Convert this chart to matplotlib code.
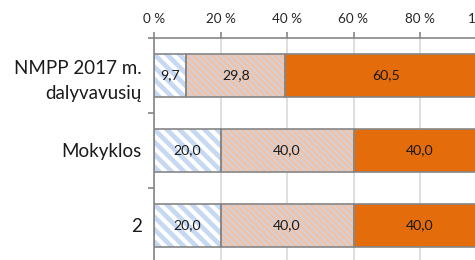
import numpy as np
import matplotlib
matplotlib.use("Agg")
import matplotlib.pyplot as plt

plt.rcParams['font.family'] = ['Lato', 'DejaVu Sans']

categories = ['NMPP 2017 m.\ndalyvavusių', 'Mokyklos', '2']
low = [9.7, 20.0, 20.0]
mid = [29.8, 40.0, 40.0]
high = [60.5, 40.0, 40.0]
xticks = [0, 20, 40, 60, 80, 100]

grey = '#868686'
fig = plt.figure(figsize=(475/75, 260/75), dpi=75)
ax = fig.add_axes([154/475, -3/260, 332.5/475, 225/260])

pos = np.arange(len(categories)) + 0.5
h = 0.57
low = np.array(low); mid = np.array(mid); high = np.array(high)

plt.rcParams['hatch.linewidth'] = 4.5
ax.barh(pos, low, height=h, color='white', edgecolor='#c6d9f1', hatch='\\\\', lw=0, zorder=2)
plt.rcParams['hatch.linewidth'] = 2.4
ax.barh(pos, mid, left=low, height=h, color='#c9d3e8', edgecolor='#f8c09b', hatch='\\\\\\\\', lw=0, zorder=2)
ax.barh(pos, high, left=low+mid, height=h, color='#e46c0a', lw=0, zorder=2)
for left, w in [(0, low), (low, mid), (low+mid, high)]:
    ax.barh(pos, w, left=left, height=h, fill=False, edgecolor=grey, lw=1.6, zorder=3)

for left, w in [(0, low), (low, mid), (low+mid, high)]:
    for y, l, v in zip(pos, np.broadcast_to(left, w.shape), w):
        ax.text(l + v/2, y, f'{v:.1f}'.replace('.', ','), ha='center', va='center',
                fontsize=13.5, color='#1a1a1a', zorder=4)

ax.set_xlim(0, 100)
ax.set_ylim(3, 0)
ax.xaxis.tick_top()
ax.set_xticks(xticks)
ax.set_xticklabels([f'{t} %' for t in xticks], fontsize=13, color='#262626')
ax.tick_params(axis='x', length=6, width=1.6, color=grey, pad=6)
ax.set_yticks([0, 1, 2, 3])
ax.set_yticklabels([])
ax.tick_params(axis='y', length=6, width=1.6, color=grey)
ax.set_yticks(pos, minor=True)
ax.set_yticklabels(categories, minor=True, fontsize=18, color='#1a1a1a', linespacing=1.55)
ax.tick_params(axis='y', which='minor', length=0, pad=12)
ax.grid(axis='x', color='#d9d9d9', lw=1.6, zorder=0)
for s in ['right', 'bottom']:
    ax.spines[s].set_visible(False)
for s in ['top', 'left']:
    ax.spines[s].set_color(grey)
    ax.spines[s].set_linewidth(1.6)

fig.savefig('out.png', dpi=75)
